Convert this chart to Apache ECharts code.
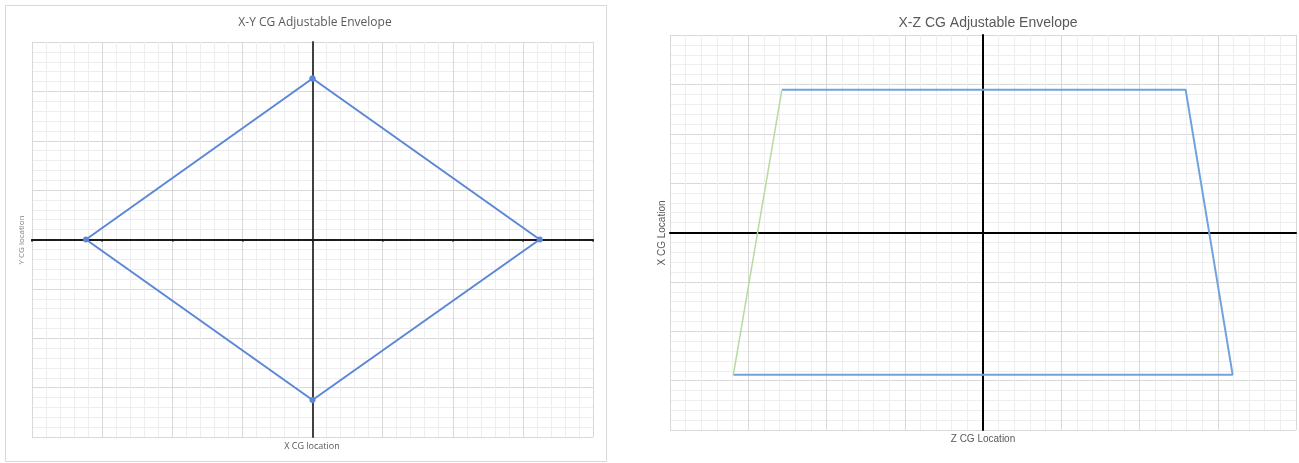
<!DOCTYPE html>
<html>
<head>
<meta charset="utf-8">
<script src="https://cdn.jsdelivr.net/npm/echarts@6/dist/echarts.min.js"></script>
<style>html,body{margin:0;padding:0;background:#fff;}#c{width:1299px;height:463px;}</style>
</head>
<body>
<div id="c"></div>
<script>
// X-Y envelope (diamond)
const xyX = [0, 3.24, 0, -3.23, 0];
const xyY = [3.26, 0, -3.25, 0, 3.26];
// X-Z envelope: blue outline (top-left -> top-right -> bottom-right -> bottom-left)
const xzBlueZ = [-2.57, 2.59, 3.19, -3.19];
const xzBlueX = [2.89, 2.89, -2.88, -2.88];
// X-Z envelope: green side (bottom-left -> top-left)
const xzGreenZ = [-3.19, -2.57];
const xzGreenX = [-2.88, 2.89];
// axis ranges
const axisMin = -4, axisMax = 4, axisStep = 1;

const zip = (a, b) => a.map((v, i) => [v, b[i]]);

function valueAxis(gridIndex, lineColor, showTicks) {
  return {
    type: 'value', gridIndex: gridIndex, min: axisMin, max: axisMax, interval: axisStep,
    axisLine: { show: true, onZero: true, lineStyle: { color: lineColor, width: 2 } },
    axisTick: { show: showTicks, length: 2, lineStyle: { color: lineColor, width: 2 } },
    axisLabel: { show: false },
    splitLine: { show: true, lineStyle: { color: '#d9d9d9', width: 1 } },
    minorTick: { show: false, splitNumber: 5 },
    minorSplitLine: { show: true, lineStyle: { color: '#eeeeee', width: 1 } }
  };
}

const chart = echarts.init(document.getElementById('c'), null, { renderer: 'canvas' });
chart.setOption({
  animation: false,
  backgroundColor: '#ffffff',
  title: [
    { text: 'X-Y CG Adjustable Envelope', left: 310, top: 12, textAlign: 'center',
      textStyle: { fontFamily: 'Open Sans', fontSize: 12, fontWeight: 'normal', color: '#595959' } },
    { text: 'X-Z CG Adjustable Envelope', left: 983, top: 11, textAlign: 'center',
      textStyle: { fontFamily: 'Liberation Sans', fontSize: 14, fontWeight: 'normal', color: '#595959' } }
  ],
  grid: [
    { left: 32, top: 42, width: 561, height: 395 },
    { left: 670, top: 35, width: 626, height: 395 }
  ],
  xAxis: [valueAxis(0, '#1a1a1a', true), valueAxis(1, '#000000', false)],
  yAxis: [
    Object.assign(valueAxis(0, '#404040', false)),
    valueAxis(1, '#000000', false)
  ],
  graphic: [
    { type: 'rect', shape: { x: 5.5, y: 5.5, width: 601, height: 456 },
      style: { fill: 'none', stroke: '#d9d9d9', lineWidth: 1 }, z: -1 },
    { type: 'text', x: 22, y: 240, rotation: Math.PI / 2,
      style: { text: 'Y CG location', fill: '#7f7f7f', font: '8px "Open Sans"', textAlign: 'center', textVerticalAlign: 'middle' } },
    { type: 'text', x: 312, y: 446,
      style: { text: 'X CG location', fill: '#595959', font: '9px "Open Sans"', textAlign: 'center', textVerticalAlign: 'middle' } },
    { type: 'text', x: 662, y: 233, rotation: Math.PI / 2,
      style: { text: 'X CG Location', fill: '#595959', font: '10px "Liberation Sans"', textAlign: 'center', textVerticalAlign: 'middle' } },
    { type: 'text', x: 983, y: 439,
      style: { text: 'Z CG Location', fill: '#595959', font: '10px "Liberation Sans"', textAlign: 'center', textVerticalAlign: 'middle' } }
  ],
  series: [
    { type: 'line', xAxisIndex: 0, yAxisIndex: 0, data: zip(xyX, xyY),
      symbol: 'circle', symbolSize: 6, showSymbol: true,
      itemStyle: { color: '#5b87d6' }, lineStyle: { color: '#5b87d6', width: 2 } },
    { type: 'line', xAxisIndex: 1, yAxisIndex: 1, data: zip(xzBlueZ, xzBlueX),
      symbol: 'none', lineStyle: { color: '#6fa3e0', width: 2 } },
    { type: 'line', xAxisIndex: 1, yAxisIndex: 1, data: zip(xzGreenZ, xzGreenX),
      symbol: 'none', lineStyle: { color: '#b5dba0', width: 1.5 } }
  ]
});
</script>
</body>
</html>
